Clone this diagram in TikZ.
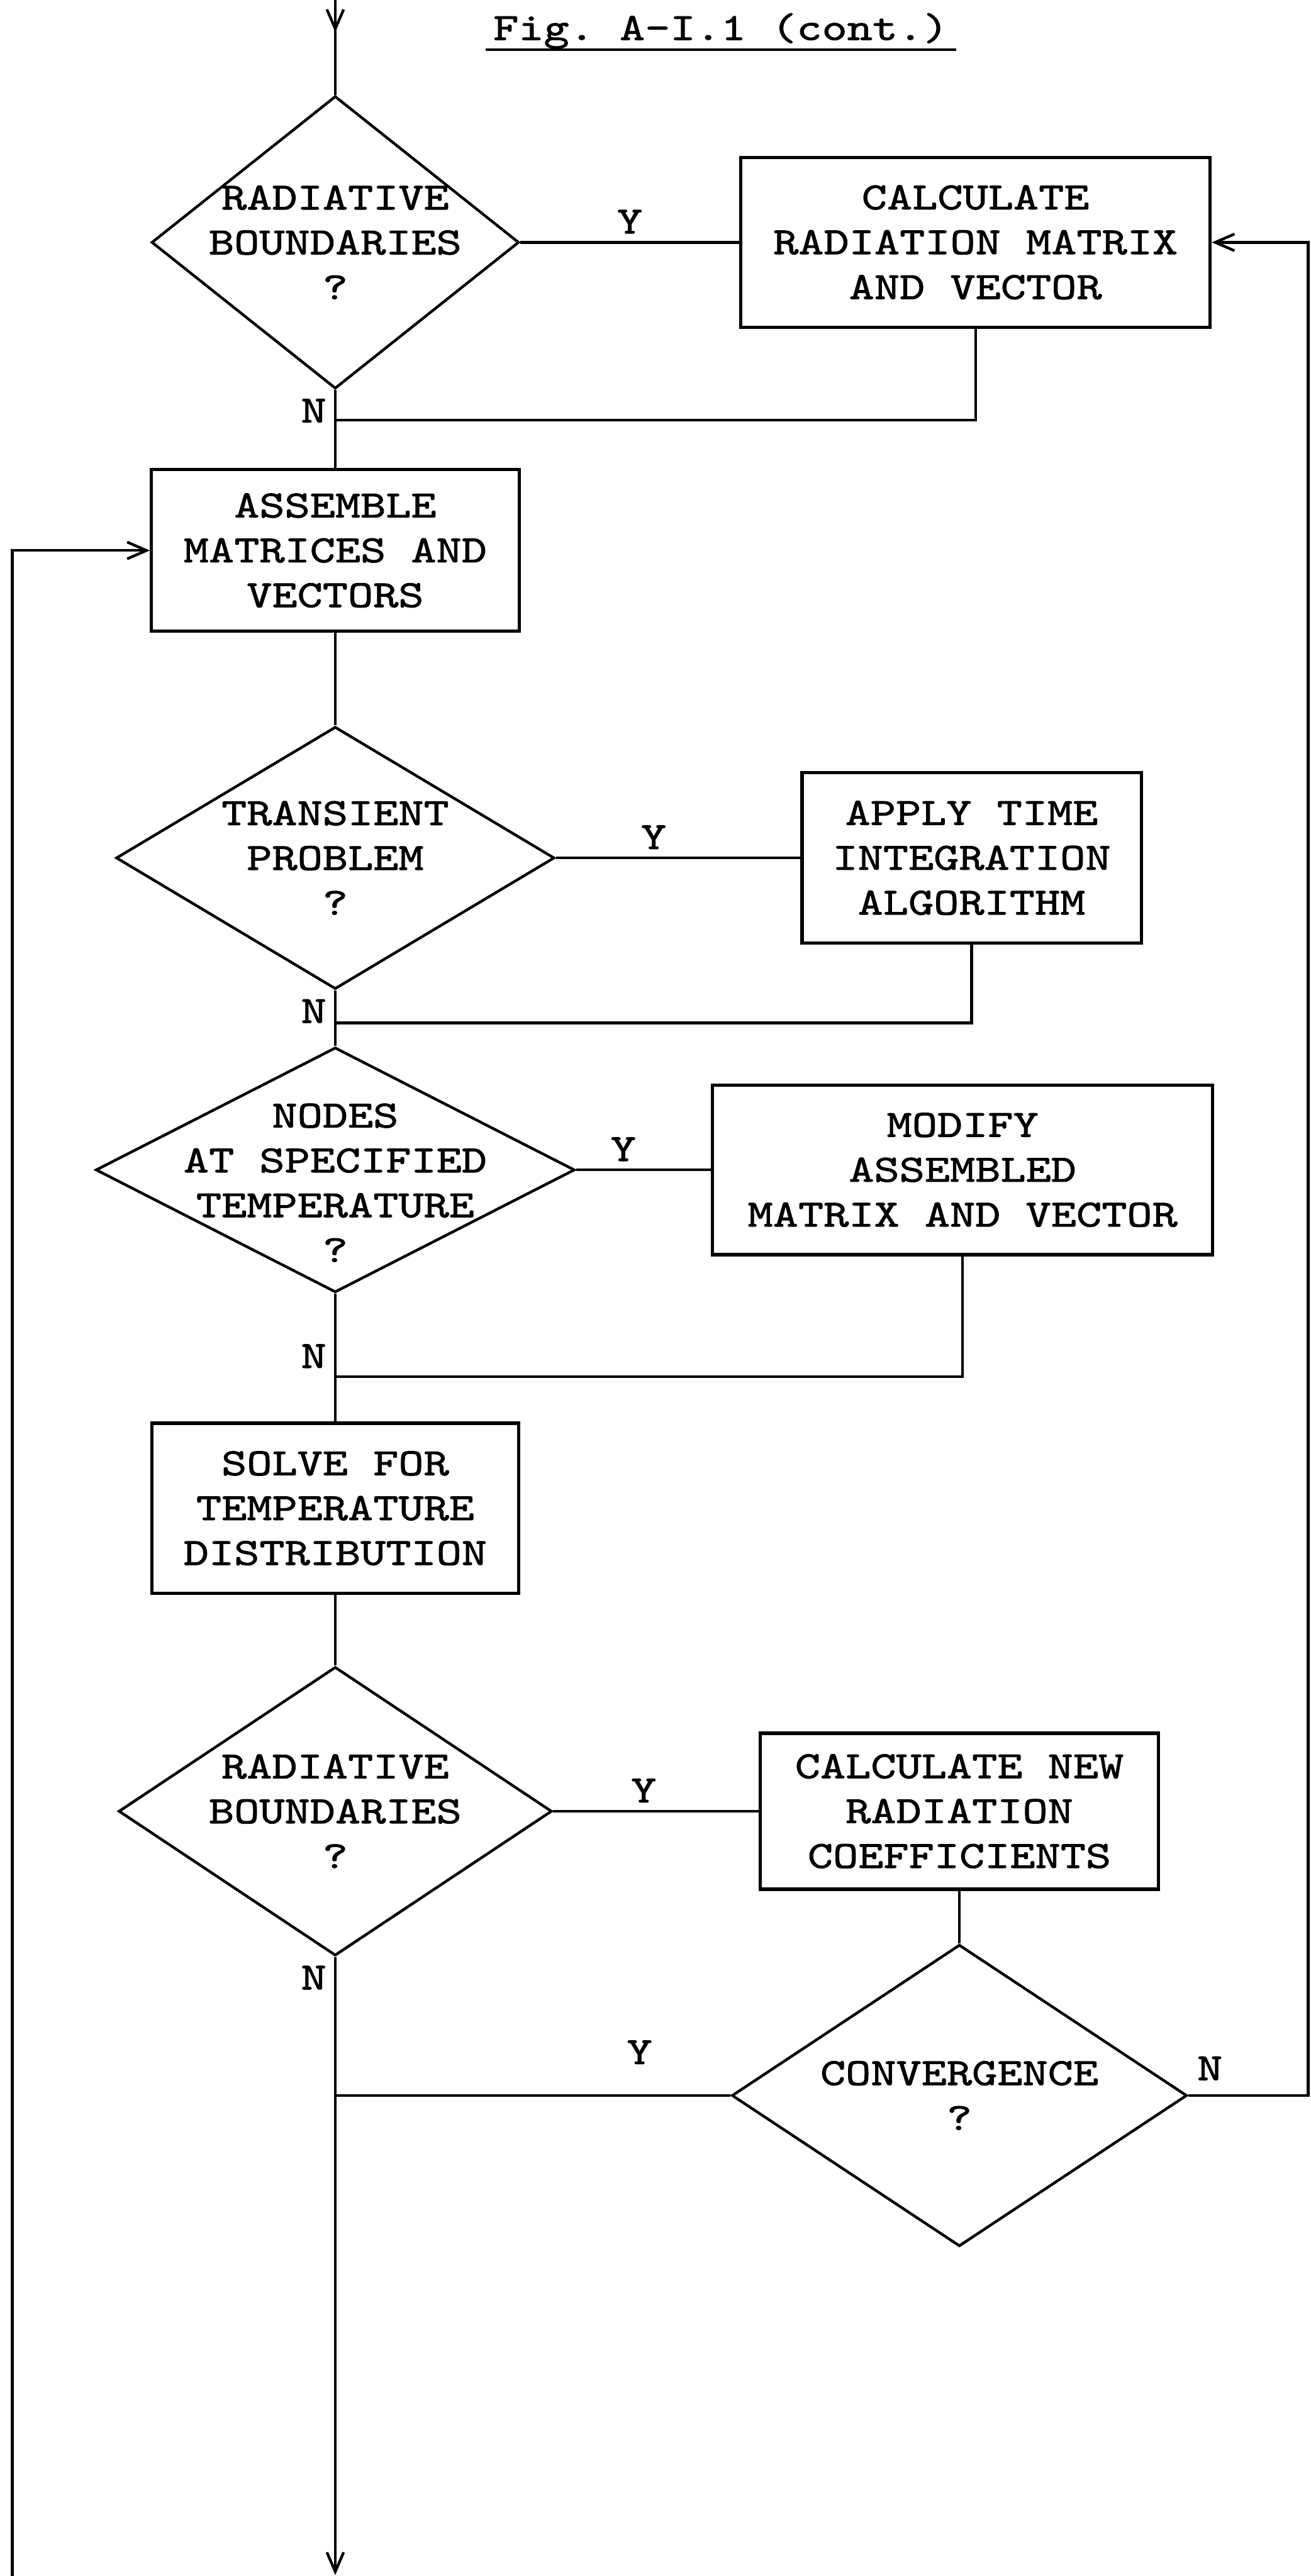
\documentclass[tikz,border=0pt]{standalone}
\usepackage{fontspec}
\setmonofont{lmmono10-regular.otf}[FakeStretch=1.25,FakeBold=1.5]
\usetikzlibrary{arrows.meta,positioning,shapes.geometric}

\begin{document}
\begin{tikzpicture}[>={Straight Barb[length=3mm,width=2.6mm]},line width=1.2pt,
 font=\ttfamily\fontsize{17}{19.8}\selectfont,
 box/.style={draw,line width=1.4pt,align=center},
 query/.style={diamond,draw,inner sep=0pt},
 ask/.style={align=center}]
\useasboundingbox (0,0) rectangle (20.325,-39.965);
\node[anchor=base,inner sep=0.1cm] (title) at (11.18,-0.62) {Fig. A-I.1 (cont.)};
\coordinate (in) at (5.2,0);
\coordinate (inhead) at (5.2,-0.5);
\node[query,minimum width=5.7cm,minimum height=4.54cm,label={[ask]center:RADIATIVE\\BOUNDARIES\\?}] (radq) at (5.2,-3.76) {};
\node[box,minimum width=7.28cm,minimum height=2.64cm] (radmat) at (15.13,-3.76) {CALCULATE\\RADIATION MATRIX\\AND VECTOR};
\coordinate (j1) at (5.2,-6.52);
\node[box,minimum width=5.7cm,minimum height=2.51cm] (assemble) at (5.2,-8.54) {ASSEMBLE\\MATRICES AND\\VECTORS};
\node[query,minimum width=6.8cm,minimum height=4.07cm,label={[ask]center:TRANSIENT\\PROBLEM\\?}] (transq) at (5.2,-13.31) {};
\node[box,minimum width=5.26cm,minimum height=2.65cm] (timeint) at (15.07,-13.31) {APPLY TIME\\INTEGRATION\\ALGORITHM};
\coordinate (j2) at (5.2,-15.87);
\node[query,minimum width=7.43cm,minimum height=3.8cm,label={[ask,yshift=-0.2cm]center:NODES\\AT SPECIFIED\\TEMPERATURE\\?}] (nodeq) at (5.2,-18.15) {};
\node[box,minimum width=7.76cm,minimum height=2.63cm] (modify) at (14.93,-18.15) {MODIFY\\ASSEMBLED\\MATRIX AND VECTOR};
\coordinate (j3) at (5.2,-21.36);
\node[box,minimum width=5.68cm,minimum height=2.64cm] (solve) at (5.2,-23.4) {SOLVE FOR\\TEMPERATURE\\DISTRIBUTION};
\node[query,minimum width=6.72cm,minimum height=4.48cm,label={[ask]center:RADIATIVE\\BOUNDARIES\\?}] (radq2) at (5.2,-28.1) {};
\node[box,minimum width=6.17cm,minimum height=2.42cm] (newcoef) at (14.88,-28.1) {CALCULATE NEW\\RADIATION\\COEFFICIENTS};
\node[query,minimum width=7.06cm,minimum height=4.68cm,label={[ask]center:CONVERGENCE\\?}] (convq) at (14.88,-32.51) {};
\coordinate (j4) at (5.2,-32.51);
\coordinate (ret) at (20.29,-32.51);
\coordinate (out) at (5.2,-39.95);
\coordinate (back) at (0.19,-39.965);

\draw ([yshift=-0.15cm]title.base west) -- ([yshift=-0.15cm]title.base east);
\draw (in) -- (radq.north);
\draw[->] (in) -- (inhead);
\draw (radq.east) -- node[above] (y1) {Y} (radmat.west);
\draw (radq.south) -- node[pos=0,anchor=north east] (n1) {N} (j1) -- (assemble.north);
\draw (radmat.south) |- (j1);
\draw[->] (back) |- (assemble.west);
\draw (assemble.south) -- (transq.north);
\draw (transq.east) -- node[above,pos=0.4] (y2) {Y} (timeint.west);
\draw (transq.south) -- node[pos=0,anchor=north east] (n2) {N} (j2) -- (nodeq.north);
\draw (timeint.south) |- (j2);
\draw (nodeq.east) -- node[above,pos=0.35] (y3) {Y} (modify.west);
\draw (nodeq.south) -- node[pos=1,anchor=south east] (n3) {N} (j3) -- (solve.north);
\draw (modify.south) |- (j3);
\draw (solve.south) -- (radq2.north);
\draw (radq2.east) -- node[above,pos=0.44] (y4) {Y} (newcoef.west);
\draw[->] (radq2.south) -- node[pos=0,anchor=north east] (n4) {N} (out);
\draw (newcoef.south) -- (convq.north);
\draw (convq.west) -- node[above=0.35cm,pos=0.23] (y5) {Y} (j4);
\draw[->] (convq.east) -- node[pos=0,anchor=south west,yshift=1mm] (n5) {N} (ret) |- (radmat.east);
\end{tikzpicture}
\end{document}
